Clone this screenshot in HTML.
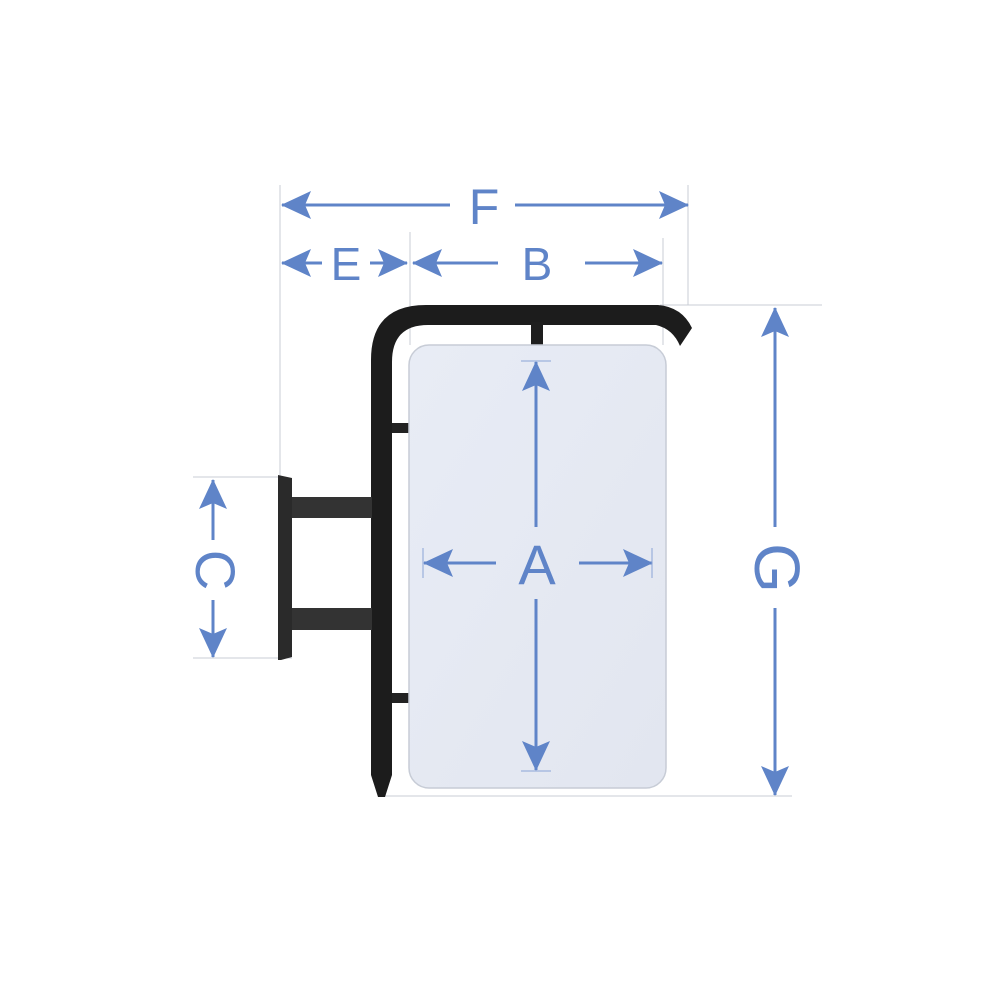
<!DOCTYPE html>
<html><head><style>html,body{margin:0;padding:0;background:#fff}svg{display:block}</style></head>
<body>
<svg width="1000" height="1000" viewBox="0 0 1000 1000" xmlns="http://www.w3.org/2000/svg">
<defs>
<marker id="ah" viewBox="0 0 30 30" refX="29" refY="15" markerWidth="30" markerHeight="30" markerUnits="userSpaceOnUse" orient="auto-start-reverse">
<path d="M0,1 L30,15 L0,29 L6,15 Z" fill="#5f84c8"/>
</marker>
<linearGradient id="pg" x1="0" y1="0" x2="1" y2="1">
<stop offset="0" stop-color="#e8ecf5"/><stop offset="1" stop-color="#e2e6f0"/>
</linearGradient>
</defs>
<g stroke="#c9ccd4" stroke-width="1" fill="none">
<line x1="280" y1="185" x2="280" y2="660"/>
<line x1="688" y1="185" x2="688" y2="305"/>
<line x1="410" y1="232" x2="410" y2="345"/>
<line x1="663" y1="238" x2="663" y2="345"/>
<line x1="660" y1="305" x2="822" y2="305"/>
<line x1="378" y1="796" x2="792" y2="796"/>
<line x1="193" y1="477" x2="280" y2="477"/>
<line x1="193" y1="658" x2="292" y2="658"/>
</g>
<path d="M371,775 L371,360 Q371,305 426,305 L658,305 Q682,307 692,328 L680,346 Q673,329 656,325 L428,325 Q392,325 392,362 L392,775 L385,797 L378,797 Z" fill="#1c1c1c"/>
<rect x="531" y="322" width="12" height="25" fill="#1e1e1e"/>
<rect x="392" y="423" width="20" height="10" fill="#222"/>
<rect x="392" y="693" width="20" height="10" fill="#222"/>
<path d="M278,475 L292,478 L292,657 L281,660 L278,660 Z" fill="#2a2a2a"/>
<rect x="292" y="497" width="80" height="21" fill="#333"/>
<rect x="292" y="608" width="80" height="22" fill="#333"/>
<rect x="409" y="345" width="257" height="443" rx="20" fill="url(#pg)" stroke="#c7ccd6" stroke-width="1.5"/>
<g stroke="#5f84c8" stroke-width="3" fill="none">
<line x1="282" y1="205" x2="450" y2="205" marker-start="url(#ah)"/>
<line x1="515" y1="205" x2="688" y2="205" marker-end="url(#ah)"/>
<line x1="282" y1="263" x2="322" y2="263" marker-start="url(#ah)"/>
<line x1="370" y1="263" x2="407" y2="263" marker-end="url(#ah)"/>
<line x1="413" y1="263" x2="498" y2="263" marker-start="url(#ah)"/>
<line x1="585" y1="263" x2="662" y2="263" marker-end="url(#ah)"/>
<line x1="775" y1="308" x2="775" y2="527" marker-start="url(#ah)"/>
<line x1="775" y1="608" x2="775" y2="795" marker-end="url(#ah)"/>
<line x1="213" y1="480" x2="213" y2="540" marker-start="url(#ah)"/>
<line x1="213" y1="600" x2="213" y2="657" marker-end="url(#ah)"/>
<line x1="536" y1="362" x2="536" y2="527" marker-start="url(#ah)"/>
<line x1="536" y1="599" x2="536" y2="770" marker-end="url(#ah)"/>
<line x1="424" y1="563" x2="496" y2="563" marker-start="url(#ah)"/>
<line x1="579" y1="563" x2="652" y2="563" marker-end="url(#ah)"/>
</g>
<g stroke="#8aa4d6" stroke-width="1">
<line x1="521" y1="361" x2="551" y2="361"/>
<line x1="521" y1="771" x2="551" y2="771"/>
<line x1="423" y1="548" x2="423" y2="578"/>
<line x1="652" y1="548" x2="652" y2="578"/>
</g>
<g fill="#5f84c8" font-family="Liberation Sans, sans-serif" text-anchor="middle">
<text x="484" y="224" font-size="50">F</text>
<text x="346" y="280" font-size="46">E</text>
<text x="537" y="280" font-size="46">B</text>
<text x="537" y="584" font-size="56">A</text>
<text transform="translate(755,568) rotate(90)" font-size="64" x="0" y="0">G</text>
<text transform="translate(196,570) rotate(90)" font-size="56" x="0" y="0">C</text>
</g>
</svg>
</body></html>
